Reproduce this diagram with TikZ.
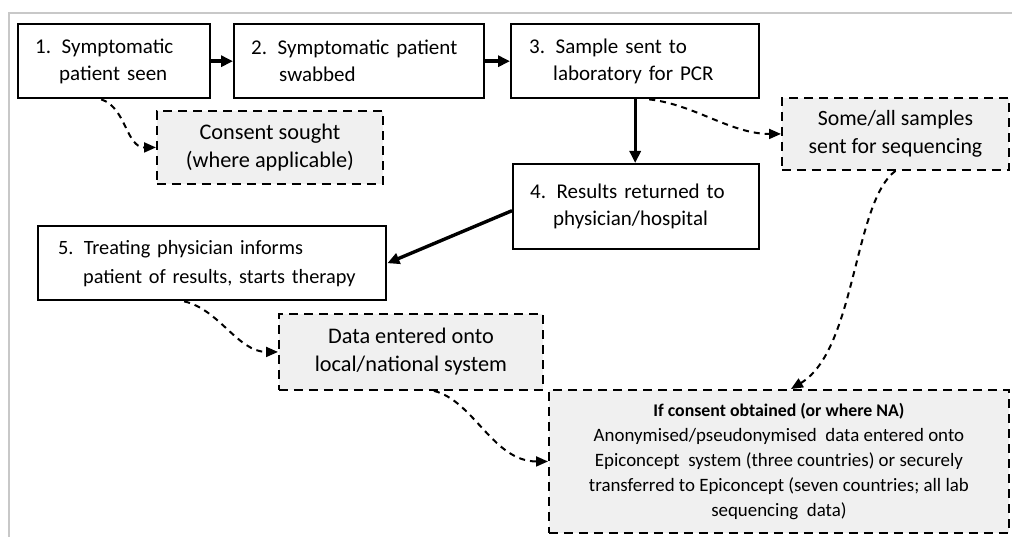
\documentclass[tikz,border=0pt]{standalone}
\usepackage{fontspec}
\setmainfont{Carlito}
\usetikzlibrary{arrows.meta}
\definecolor{boxgray}{HTML}{F0F0F0}
\definecolor{framegray}{HTML}{C8C8C8}
\begin{document}
\begin{tikzpicture}[x=1pt,y=-1pt,
  solidbox/.style={draw, line width=2.4pt, anchor=north west, align=left,
    inner xsep=17pt, inner ysep=0pt, minimum height=74pt,
    font=\fontsize{21}{27}\selectfont},
  dashbox/.style={draw, fill=boxgray, line width=1.9pt, dash pattern=on 9pt off 6pt,
    anchor=north west, align=center, inner sep=0pt,
    font=\fontsize{22.3}{28}\selectfont},
  flow/.style={-{Triangle[length=12pt,width=11pt]}, line width=3.4pt},
  dflow/.style={-{Triangle[length=12pt,width=10pt]}, line width=2pt, dash pattern=on 6pt off 5pt}]
\useasboundingbox (0,0) rectangle (1012,537);
\draw[framegray, line width=2pt] (9,537) -- (9,13) -- (1012,13);

\node[solidbox, text width=158pt] (b1) at (17,23)
  {1.\hspace{0.5em}Symptomatic\\\hspace*{24pt}patient seen};
\node[solidbox, text width=216pt] (b2) at (233,23)
  {2.\hspace{0.5em}Symptomatic patient\\\hspace*{28pt}swabbed};
\node[solidbox, text width=212pt, inner xsep=18pt] (b3) at (510,23)
  {3.\hspace{0.5em}Sample sent to\\\hspace*{24pt}laboratory for PCR};
\node[solidbox, text width=212pt, minimum height=85pt] (b4) at (512,163)
  {4.\hspace{0.5em}Results returned to\\\hspace*{23pt}physician/hospital};
\node[solidbox, text width=308pt, inner xsep=20pt, font=\fontsize{20.3}{29}\selectfont] (b5) at (37,225)
  {5. Treating physician informs\\\hspace*{25pt}patient of results, starts therapy};

\node[dashbox, minimum width=226pt, minimum height=73pt] (consent) at (156,110)
  {Consent sought\\(where applicable)};
\node[dashbox, minimum width=227pt, minimum height=72pt, font=\fontsize{21.8}{28}\selectfont] (some) at (781,97)
  {Some/all samples\\sent for sequencing};
\node[dashbox, minimum width=264pt, minimum height=76pt] (data) at (278,313)
  {Data entered onto\\local/national system};
\node[dashbox, minimum width=460pt, minimum height=143pt,
  font=\fontsize{18.9}{25}\selectfont] (big) at (548,389)
  {{\fontsize{17.8}{25}\selectfont\bfseries If consent obtained (or where NA)}\\
   Anonymised/pseudonymised\ \ data entered onto\\
   Epiconcept\ \ system (three countries) or securely\\
   transferred to Epiconcept (seven countries; all lab\\
   sequencing\ \ data)};

\draw[flow] (b1) -- (b2);
\draw[flow] (b2) -- (b3);
\draw[flow] (b3.south) -- (b3.south |- b4.north);
\draw[flow] ([yshift=-4pt]b4.west) -- (b5.east);

\draw[dflow] ([xshift=-13pt]b1.south) .. controls +(25,8) and +(-30,0) .. (consent.west);
\draw[dflow] ([xshift=14pt]b3.south) .. controls +(45,5) and +(-50,0) .. (some.west);
\draw[dflow] (some.south) .. controls +(-42,31) and +(65,-39) .. ([xshift=12pt]big.north);
\draw[dflow] ([xshift=-28pt]b5.south) .. controls +(35,8) and +(-40,0) .. (data.west);
\draw[dflow] ([xshift=23pt]data.south) .. controls +(40,10) and +(-55,0) .. (big.west);
\end{tikzpicture}
\end{document}
